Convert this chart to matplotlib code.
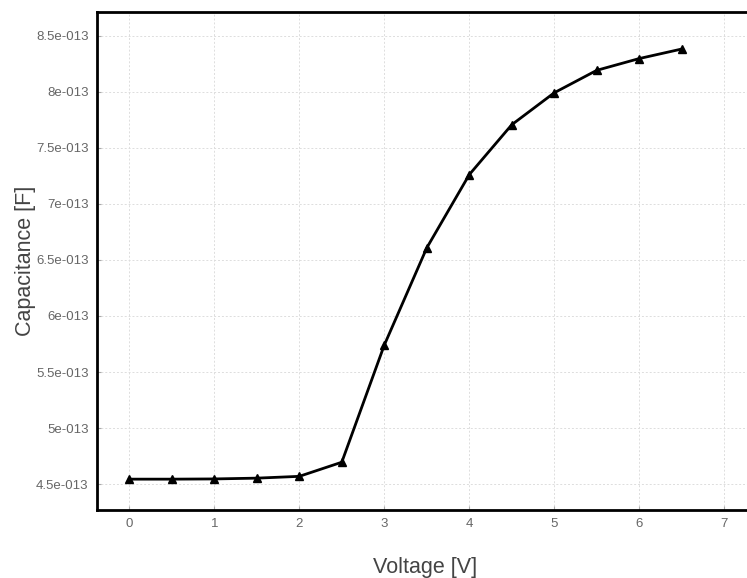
import matplotlib
matplotlib.use("Agg")
import matplotlib.pyplot as plt
from matplotlib.ticker import FuncFormatter

voltage = [0, 0.5, 1, 1.5, 2, 2.5, 3, 3.5, 4, 4.5, 5, 5.5, 6, 6.5]
capacitance = [4.545e-13, 4.545e-13, 4.547e-13, 4.554e-13, 4.57e-13, 4.696e-13,
               5.74e-13, 6.607e-13, 7.26e-13, 7.705e-13, 7.99e-13, 8.19e-13,
               8.295e-13, 8.38e-13]
x_ticks = [0, 1, 2, 3, 4, 5, 6, 7]
y_ticks = [4.5e-13, 5e-13, 5.5e-13, 6e-13, 6.5e-13, 7e-13, 7.5e-13, 8e-13, 8.5e-13]


def fmt_e(v, pos):
    m = v / 1e-13
    s = f"{m:.1f}".rstrip("0").rstrip(".")
    return f"{s}e-013"


plt.rcParams["font.family"] = ["Liberation Sans", "DejaVu Sans"]
fig = plt.figure(figsize=(7.47, 5.78), dpi=100)
ax = fig.add_axes([97 / 747, 68 / 578, 657 / 747, 498 / 578])

ax.plot(voltage, capacitance, color="black", lw=2, marker="^", ms=6)
ax.set_xlim(-0.38, 7.35)
ax.set_ylim(4.27e-13, 8.71e-13)
ax.set_xticks(x_ticks)
ax.set_yticks(y_ticks)
ax.yaxis.set_major_formatter(FuncFormatter(fmt_e))
ax.grid(True, ls=(0, (2, 2)), color="#dddddd", lw=0.7)
ax.tick_params(direction="in", length=3, color="#aaaaaa", labelcolor="#666666",
               labelsize=9.5, pad=6)
for sp in ax.spines.values():
    sp.set_linewidth(2)
    sp.set_color("black")

ax.set_xlabel("Voltage [V]", fontsize=15.5, color="#444444", labelpad=19)
ax.set_ylabel("Capacitance [F]", fontsize=15.5, color="#444444", labelpad=0)

fig.savefig("out.png", dpi=100)
